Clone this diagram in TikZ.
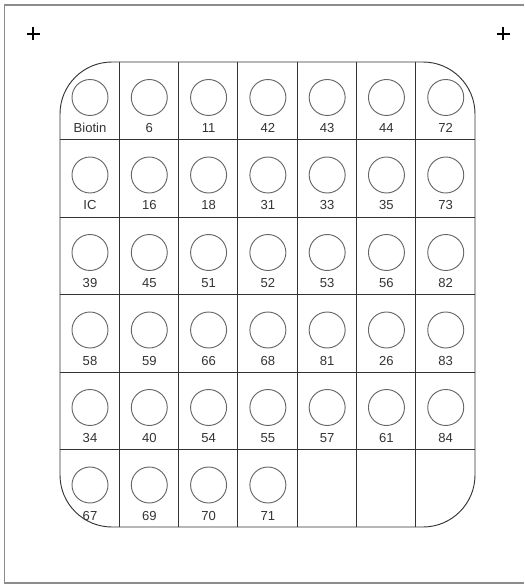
\documentclass[tikz,border=0pt]{standalone}
\usepackage{fontspec}
\setmainfont{Liberation Sans}
\begin{document}
\begin{tikzpicture}[x=0.75pt, y=-0.75pt, font=\fontsize{9.8}{11}\selectfont]
  \tikzset{
    well/.style={draw=black!60, line width=0.7pt, circle, minimum size=27pt, inner sep=0pt},
    tag/.style={text=black!80, inner sep=0pt, anchor=base},
    plate/.style={draw=black!80, line width=0.7pt},
    cross/.style={draw=black, line width=1.1pt},
    sheet/.style={draw=black!45, line width=1.1pt}
  }
  \useasboundingbox (0,0) rectangle (524,584);
  % sheet edge and marks
  \draw[sheet] (524,5) -- (4.5,5) -- (4.5,583) -- (524,583);
  \draw[cross] (26.5,34) -- (39.5,34) (33,27.5) -- (33,40.5);
  \draw[cross] (496.5,34) -- (509.5,34) (503,27.5) -- (503,40.5);
  % plate outline and grid
  \draw[plate, rounded corners=39pt] (60,62) rectangle (475,527);
  \foreach \k in {1,...,6}
    \draw[plate] ({60+59.29*\k},62) -- ({60+59.29*\k},527);
  \foreach \k in {1,...,5}
    \draw[plate] (60,{62+77.5*\k}) -- (475,{62+77.5*\k});
  % wells
  \foreach \lab [count=\i from 0] in {Biotin,6,11,42,43,44,72,
      IC,16,18,31,33,35,73, 39,45,51,52,53,56,82,
      58,59,66,68,81,26,83, 34,40,54,55,57,61,84,
      67,69,70,71} {
    \pgfmathtruncatemacro\r{\i/7}
    \pgfmathtruncatemacro\c{mod(\i,7)}
    \node[well] (w\i) at ({90+59.29*\c},{97.5+77.5*\r}) {};
    \node[tag] (t\i) at ({90+59.29*\c},{132.5+77.5*\r}) {\lab};
  }
\end{tikzpicture}
\end{document}
